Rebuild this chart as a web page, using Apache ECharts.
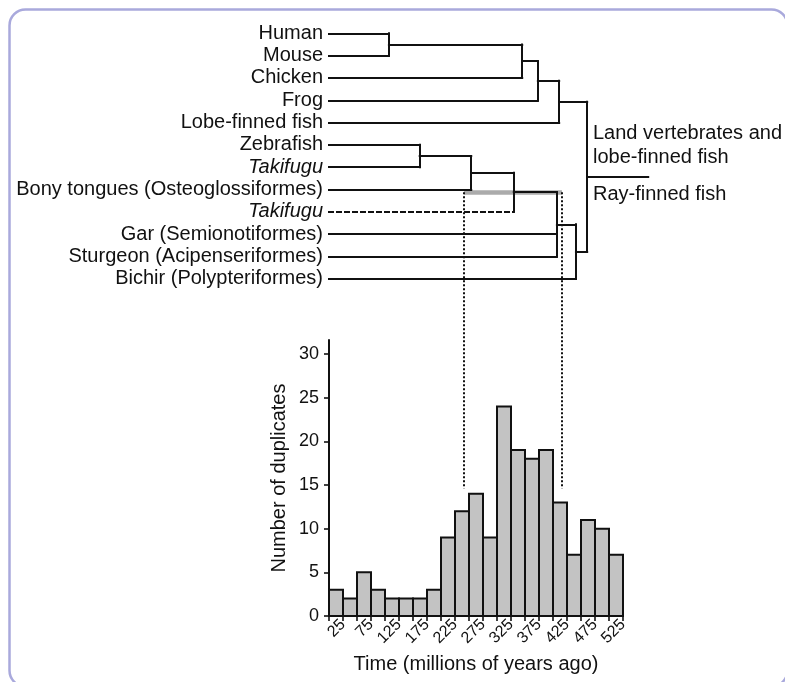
<!DOCTYPE html>
<html>
<head>
<meta charset="utf-8">
<style>
  html, body { margin: 0; padding: 0; background: #fff; }
  #main { width: 785px; height: 682px; }
</style>
<script src="https://cdn.jsdelivr.net/npm/echarts@6/dist/echarts.min.js"></script>
</head>
<body>
<div id="main"></div>
<script>
// taxa, top to bottom
const taxa = ['Human', 'Mouse', 'Chicken', 'Frog', 'Lobe-finned fish', 'Zebrafish', 'Takifugu',
  'Bony tongues (Osteoglossiformes)', 'Takifugu', 'Gar (Semionotiformes)',
  'Sturgeon (Acipenseriformes)', 'Bichir (Polypteriformes)'];
const italicTaxa = [6, 8];
const dashedTaxa = [8];
// internal nodes: children (taxon index or 'n' + node index), ages in Myr
const nodeKids = [[0, 1], ['n0', 2], ['n1', 3], ['n2', 4], [5, 6], ['n4', 7], ['n5', 8],
  ['n6', 9, 10], ['n7', 11], ['n3', 'n8']];
const nodeAge = [107, 345, 373, 411, 162, 254, 330, 407, 441, 461];
const rootLineEnd = 570;
const dupWindow = [241, 416];   // grey bar / dotted lines
const dupWindowFloor = 14.6;    // where the dotted lines stop

// histogram
const binWidth = 25;
const binStart = [0, 25, 50, 75, 100, 125, 150, 175, 200, 225, 250, 275, 300, 325, 350, 375, 400, 425, 450, 475, 500];
const duplicates = [3, 2, 5, 3, 2, 2, 2, 3, 9, 12, 14, 9, 24, 19, 18, 19, 13, 7, 11, 10, 7];
const yTicks = [0, 5, 10, 15, 20, 25, 30];
const xTicks = [0, 25, 50, 75, 100, 125, 150, 175, 200, 225, 250, 275, 300, 325, 350, 375, 400, 425, 450, 475, 500, 525];
const xTickLabels = [25, 75, 125, 175, 225, 275, 325, 375, 425, 475, 525];

const FONT = "'Liberation Sans', Arial, Helvetica, sans-serif";
const INK = '#111';

// build the tree lines
const nodeY = [];
const yOf = k => typeof k === 'string' ? nodeY[+k.slice(1)] : k;
const xOf = k => typeof k === 'string' ? nodeAge[+k.slice(1)] : 0;
const treeLines = [];
nodeKids.forEach((kids, i) => {
  const ys = kids.map(yOf);
  const lo = Math.min(...ys), hi = Math.max(...ys);
  nodeY[i] = (lo + hi) / 2;
  kids.forEach(k => {
    const dashed = typeof k === 'number' && dashedTaxa.includes(k);
    treeLines.push({
      coords: [[xOf(k), yOf(k)], [nodeAge[i], yOf(k)]],
      lineStyle: dashed ? { type: [4, 4] } : {}
    });
  });
  treeLines.push({ coords: [[nodeAge[i], lo], [nodeAge[i], hi]] });
});
const root = nodeKids.length - 1;
treeLines.push({ coords: [[nodeAge[root], nodeY[root]], [rootLineEnd, nodeY[root]]] });
const teleostNode = 6;

const chart = echarts.init(document.getElementById('main'));

const option = {
  backgroundColor: '#fff',
  animation: false,
  textStyle: { fontFamily: FONT, color: INK },
  grid: [
    { left: 329, top: 22.2, width: 336, height: 267.6 },
    { left: 329, top: 340, width: 294, height: 276 }
  ],
  xAxis: [
    { type: 'value', gridIndex: 0, min: 0, max: 600, show: false },
    {
      type: 'value', gridIndex: 1, min: 0, max: 525, interval: 25,
      axisLine: { show: true, lineStyle: { color: INK, width: 2 } },
      axisTick: { show: true, length: 5, customValues: xTicks, lineStyle: { color: INK, width: 1.6 } },
      axisLabel: {
        customValues: xTickLabels, rotate: 45, margin: 6,
        fontSize: 16, fontFamily: FONT, color: INK
      },
      splitLine: { show: false },
      name: 'Time (millions of years ago)', nameLocation: 'middle', nameGap: 38,
      nameTextStyle: { fontSize: 20, fontFamily: FONT, color: INK }
    }
  ],
  yAxis: [
    {
      type: 'category', gridIndex: 0, data: taxa, inverse: true,
      axisLine: { show: false }, axisTick: { show: false }, splitLine: { show: false },
      axisLabel: {
        margin: 6, fontSize: 20, fontFamily: FONT, color: INK, interval: 0,
        formatter: (v, i) => italicTaxa.includes(i) ? '{it|' + v + '}' : v,
        rich: { it: { fontStyle: 'italic', fontSize: 20, fontFamily: FONT, color: INK } }
      }
    },
    { type: 'value', gridIndex: 0, min: -0.5, max: 11.5, inverse: true, show: false },
    {
      type: 'value', gridIndex: 1, min: 0, max: 31.6, interval: 5,
      axisLine: { show: true, lineStyle: { color: INK, width: 2 } },
      axisTick: { show: true, length: 5, customValues: yTicks, lineStyle: { color: INK, width: 1.6 } },
      axisLabel: { customValues: yTicks, margin: 10, fontSize: 18, fontFamily: FONT, color: INK },
      splitLine: { show: false },
      name: 'Number of duplicates', nameLocation: 'middle', nameGap: 40,
      nameTextStyle: { fontSize: 20, fontFamily: FONT, color: INK }
    }
  ],
  graphic: [
    {
      type: 'rect', silent: true,
      shape: { x: 9.5, y: 9.5, width: 778, height: 677, r: 16 },
      style: { fill: 'none', stroke: '#a9a9dc', lineWidth: 2.5 }
    },
    {
      type: 'text', left: 593, top: 121,
      style: { text: 'Land vertebrates and\nlobe-finned fish', font: '20px ' + FONT, fill: INK, lineHeight: 24 }
    },
    {
      type: 'text', left: 593, top: 184,
      style: { text: 'Ray-finned fish', font: '20px ' + FONT, fill: INK }
    }
  ],
  series: [
    {
      // grey duplication window on the ray-finned branch
      type: 'lines', coordinateSystem: 'cartesian2d', xAxisIndex: 0, yAxisIndex: 1,
      z: 1, silent: true,
      lineStyle: { color: '#ababab', width: 4.5, opacity: 1, curveness: 0 },
      data: [{ coords: [[dupWindow[0], nodeY[teleostNode]], [dupWindow[1], nodeY[teleostNode]]] }]
    },
    {
      type: 'lines', coordinateSystem: 'cartesian2d', xAxisIndex: 0, yAxisIndex: 1,
      z: 3, silent: true,
      lineStyle: { color: INK, width: 2, opacity: 1, curveness: 0, cap: 'square' },
      data: treeLines
    },
    {
      type: 'custom', xAxisIndex: 1, yAxisIndex: 2, silent: true,
      data: binStart.map((s, i) => [s, duplicates[i]]),
      renderItem: (params, api) => {
        const p0 = api.coord([api.value(0), 0]);
        const p1 = api.coord([api.value(0) + binWidth, api.value(1)]);
        return {
          type: 'rect',
          shape: { x: p0[0], y: p1[1], width: p1[0] - p0[0], height: p0[1] - p1[1] },
          style: { fill: '#c3c3c3', stroke: INK, lineWidth: 2 }
        };
      }
    }
  ]
};

chart.setOption(option);

// dotted lines from the grey bar down into the histogram
const barPx = chart.convertToPixel({ xAxisIndex: 0, yAxisIndex: 1 }, [0, nodeY[teleostNode]])[1];
const barVal = chart.convertFromPixel({ xAxisIndex: 1, yAxisIndex: 2 }, [0, barPx])[1];
chart.setOption({
  series: option.series.concat([{
    type: 'lines', coordinateSystem: 'cartesian2d', xAxisIndex: 1, yAxisIndex: 2,
    clip: false, z: 2, silent: true,
    lineStyle: { color: INK, width: 2, opacity: 1, type: [2, 2], curveness: 0 },
    data: dupWindow.map(t => ({ coords: [[t, barVal], [t, dupWindowFloor]] }))
  }])
});
</script>
</body>
</html>
